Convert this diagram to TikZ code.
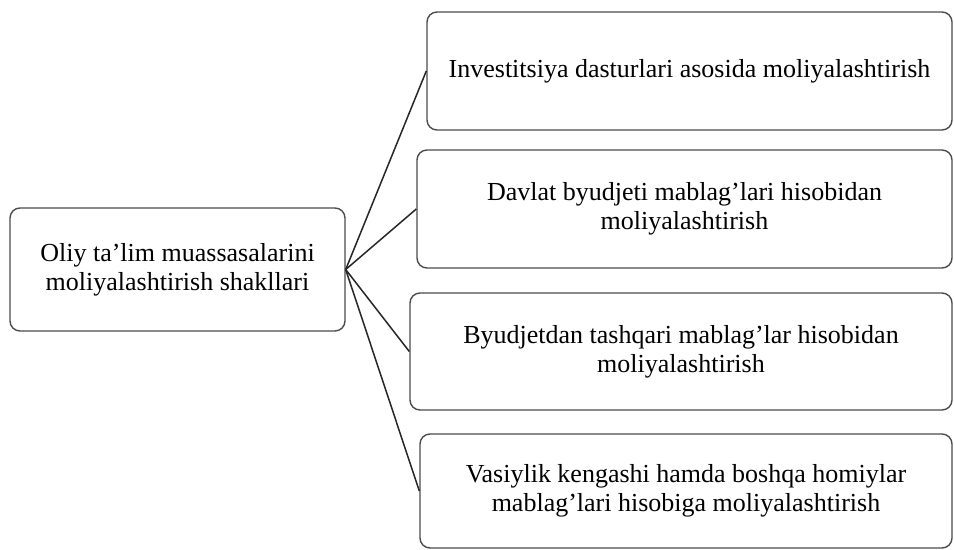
\documentclass[tikz,border=0pt]{standalone}
\usepackage{fontspec}
\setmainfont{Liberation Serif}
\begin{document}
\begin{tikzpicture}[x=1bp,y=-1bp,
  box/.style={draw=black!70, line width=1.4bp, rounded corners=10bp, align=center,
    font=\fontsize{26bp}{29bp}\selectfont, inner sep=0pt},
  link/.style={draw=black!85, line width=1.5bp}]
\useasboundingbox (0,0) rectangle (954,550);
\node[box, minimum width=335bp, minimum height=123bp] (L) at (177.5,269.5)
  {Oliy ta’lim muassasalarini\\moliyalashtirish shakllari};
\node[box, minimum width=525bp, minimum height=118bp] (A) at (689.5,71)
  {Investitsiya dasturlari asosida moliyalashtirish};
\node[box, minimum width=535bp, minimum height=118bp] (B) at (684.5,209)
  {Davlat byudjeti mablag’lari hisobidan\\moliyalashtirish};
\node[box, minimum width=542bp, minimum height=117bp] (C) at (681,351.5)
  {Byudjetdan tashqari mablag’lar hisobidan\\moliyalashtirish};
\node[box, minimum width=532bp, minimum height=114bp] (D) at (686,491)
  {Vasiylik kengashi hamda boshqa homiylar\\mablag’lari hisobiga moliyalashtirish};
\draw[link] (L.east) -- (A.west);
\draw[link] (L.east) -- (B.west);
\draw[link] (L.east) -- (C.west);
\draw[link] (L.east) -- (D.west);
\end{tikzpicture}
\end{document}
